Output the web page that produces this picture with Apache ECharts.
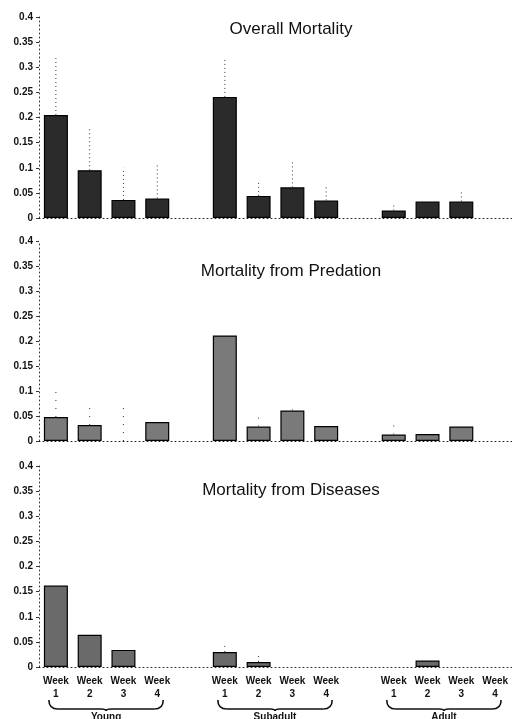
<!DOCTYPE html>
<html>
<head>
<meta charset="utf-8">
<script src="https://cdn.jsdelivr.net/npm/echarts@6/dist/echarts.min.js"></script>
<style>
html,body{margin:0;padding:0;background:#fff;}
#chart{width:512px;height:719px;}
</style>
</head>
<body>
<div id="chart"></div>
<script>
// ---- data ----
const groups = ['Young', 'Subadult', 'Adult'];
const weekLabels = ['Week\n1', 'Week\n2', 'Week\n3', 'Week\n4'];
const yTicks = [0, 0.05, 0.1, 0.15, 0.2, 0.25, 0.3, 0.35, 0.4];
const panelTitles = ['Overall Mortality', 'Mortality from Predation', 'Mortality from Diseases'];

const overallYoung = [0.205, 0.095, 0.036, 0.039];
const overallSubadult = [0.241, 0.044, 0.061, 0.035];
const overallAdult = [0.015, 0.033, 0.033, 0];
const overallUpperYoung = [0.318, 0.178, 0.100, 0.108];
const overallUpperSubadult = [0.318, 0.073, 0.113, 0.066];
const overallUpperAdult = [0.031, null, 0.053, null];

const predYoung = [0.048, 0.032, 0, 0.038];
const predSubadult = [0.211, 0.029, 0.061, 0.030];
const predAdult = [0.013, 0.014, 0.029, 0];
const predUpperYoung = [0.107, 0.078, 0.067, null];
const predUpperSubadult = [null, 0.056, 0.064, null];
const predUpperAdult = [0.032, null, null, null];

const disYoung = [0.162, 0.064, 0.034, 0];
const disSubadult = [0.030, 0.010, 0, 0];
const disAdult = [0, 0.013, 0, 0];
const disUpperYoung = [null, null, null, null];
const disUpperSubadult = [0.050, 0.030, null, null];
const disUpperAdult = [null, null, null, null];

// ---- build ----
const categories = [].concat(weekLabels, [''], weekLabels, [''], weekLabels);
function joinGroups(a, b, c) { return [].concat(a, [null], b, [null], c); }
const panels = [
  { vals: joinGroups(overallYoung, overallSubadult, overallAdult),
    up: joinGroups(overallUpperYoung, overallUpperSubadult, overallUpperAdult),
    color: '#2b2b2b', dash: [1, 3] },
  { vals: joinGroups(predYoung, predSubadult, predAdult),
    up: joinGroups(predUpperYoung, predUpperSubadult, predUpperAdult),
    color: '#7a7a7a', dash: [1, 7] },
  { vals: joinGroups(disYoung, disSubadult, disAdult),
    up: joinGroups(disUpperYoung, disUpperSubadult, disUpperAdult),
    color: '#6a6a6a', dash: [1, 4] }
];
const gridTops = [17, 241, 466];
const gridHeights = [201, 200, 201];
const FONT = '"Liberation Sans", Arial, sans-serif';

const grids = [], xAxes = [], yAxes = [], series = [], titles = [];
panels.forEach((p, i) => {
  grids.push({ left: 39, width: 478, top: gridTops[i], height: gridHeights[i] });
  xAxes.push({
    type: 'category', gridIndex: i, data: categories, boundaryGap: true,
    axisLine: { show: true, lineStyle: { color: '#222', type: [1, 3], width: 1 } },
    axisTick: { show: false },
    axisLabel: {
      show: i === 2, interval: 0, margin: 8, color: '#111',
      fontFamily: FONT, fontWeight: 'bold', fontSize: 10, lineHeight: 13
    }
  });
  yAxes.push({
    type: 'value', gridIndex: i, min: yTicks[0], max: yTicks[yTicks.length - 1], interval: 0.05,
    axisLine: { show: true, lineStyle: { color: '#333', type: [1, 3], width: 1 } },
    axisTick: { show: true, length: 3, lineStyle: { color: '#333' } },
    splitLine: { show: false },
    axisLabel: { color: '#111', fontFamily: FONT, fontWeight: 'bold', fontSize: 10, margin: 6 }
  });
  series.push({
    type: 'bar', xAxisIndex: i, yAxisIndex: i, barWidth: 24,
    data: p.vals.map(v => (v === null || v === 0) ? '-' : v),
    itemStyle: { color: p.color, borderColor: '#000', borderWidth: 1.2 },
    z: 2
  });
  const eb = [];
  p.up.forEach((u, k) => { if (u !== null) eb.push([k, p.vals[k] || 0, u]); });
  series.push({
    type: 'custom', xAxisIndex: i, yAxisIndex: i, data: eb, z: 3,
    encode: { x: 0, y: [1, 2] },
    renderItem: (params, api) => {
      const lo = api.coord([api.value(0), api.value(1)]);
      const hi = api.coord([api.value(0), api.value(2)]);
      return { type: 'line', shape: { x1: lo[0], y1: lo[1], x2: hi[0], y2: hi[1] },
        style: { stroke: '#333', lineWidth: 1, lineDash: p.dash } };
    }
  });
  titles.push({
    text: panelTitles[i], left: 286, textAlign: 'center',
    top: [16, 258, 477][i],
    textStyle: { fontFamily: FONT, fontWeight: 'normal', fontSize: 17, color: '#111' }
  });
});

const chart = echarts.init(document.getElementById('chart'), null, { renderer: 'canvas' });
chart.setOption({
  animation: false,
  backgroundColor: '#fff',
  title: titles,
  grid: grids, xAxis: xAxes, yAxis: yAxes, series: series
});

// group braces under the bottom panel, positioned from the axis
const graphics = [];
const braceStyle = { fill: null, stroke: '#111', lineWidth: 1.6 };
function bez(xa, ya, cx, cy, xb, yb) {
  return { type: 'bezierCurve', shape: { x1: xa, y1: ya, cpx1: cx, cpy1: cy, x2: xb, y2: yb }, style: braceStyle };
}
function seg(xa, ya, xb, yb) {
  return { type: 'line', shape: { x1: xa, y1: ya, x2: xb, y2: yb }, style: braceStyle };
}
groups.forEach((g, gi) => {
  const first = gi * 5, last = gi * 5 + 3;
  const a = chart.convertToPixel({ xAxisIndex: 2 }, first);
  const b = chart.convertToPixel({ xAxisIndex: 2 }, last);
  const x0 = a - 7, x1 = b + 6, yt = 700, yb = 709, m = (x0 + x1) / 2;
  graphics.push(bez(x0, yt, x0, yb, x0 + 9, yb));
  graphics.push(seg(x0 + 9, yb, m - 5, yb));
  graphics.push(bez(m - 5, yb, m, yb, m, yb + 2));
  graphics.push(bez(m, yb + 2, m, yb, m + 5, yb));
  graphics.push(seg(m + 5, yb, x1 - 9, yb));
  graphics.push(bez(x1 - 9, yb, x1, yb, x1, yt));
  graphics.push({ type: 'text', x: m, y: 712,
    style: { text: g, fill: '#111', font: 'bold 10px ' + FONT, textAlign: 'center', textVerticalAlign: 'top' } });
});
chart.setOption({ graphic: graphics });
</script>
</body>
</html>
